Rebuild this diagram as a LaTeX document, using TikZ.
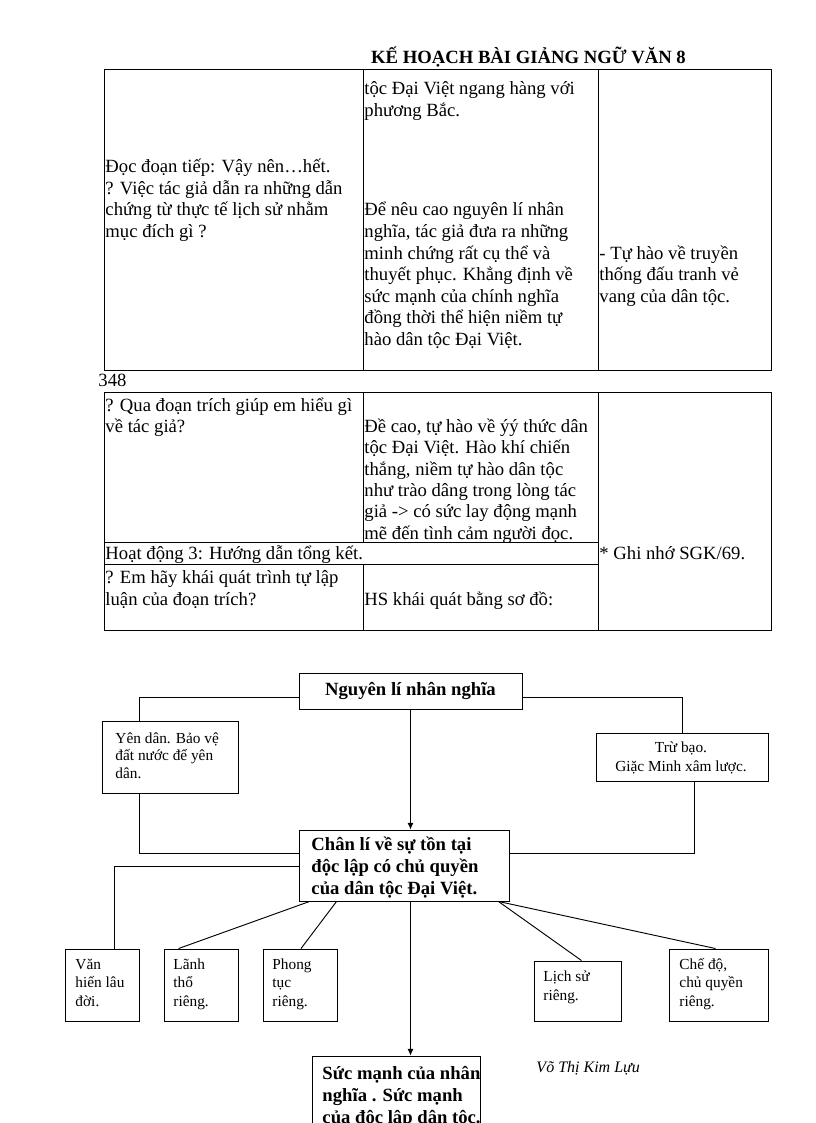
\documentclass[tikz,border=0pt]{standalone}
\usepackage{fontspec}
\setmainfont{Liberation Serif}
\usetikzlibrary{arrows.meta,calc}

% x, y of first baseline, line step, name, lines
\newcommand{\textrows}[5]{%
	\foreach \txt [count=\i from 0] in {#5}
		\node[anchor=base west] (#4-\i) at (#1,#2+\i*#3) {\txt};
}

\begin{document}
\begin{tikzpicture}[x=0.75pt,y=-0.75pt,line width=0.7pt,
			box/.style 2 args={draw,minimum width=#1*0.75pt,minimum height=#2*0.75pt},
			small/.style={font=\fontsize{11.5}{13.5}\selectfont},
			heavy/.style={font=\fontsize{14}{16}\selectfont\bfseries},
			arr/.style={-{Latex[length=5pt,width=4.5pt]}}]
		\useasboundingbox (0,0) rectangle (816,1123);
		\clip (0,0) rectangle (816,1123);
		\tikzstyle{every node}=[inner sep=0pt,font=\fontsize{14}{16}\selectfont]

		\node[anchor=base,heavy] (title) at (528.5,64) {KẾ HOẠCH BÀI GIẢNG NGỮ VĂN 8};

		% first table
		\draw (104,69) rectangle (771,370);
		\draw (363,69) -- (363,370) (598,69) -- (598,370);
		\textrows{364}{95}{21.5}{c2a}{tộc Đại Việt ngang hàng với, phương Bắc.}
		\textrows{105}{173}{21.5}{c1a}{Đọc đoạn tiếp: Vậy nên…hết., ? Việc tác giả dẫn ra những dẫn, chứng từ thực tế lịch sử nhằm, mục đích gì ?}
		\textrows{364}{216}{21.5}{c2b}{Để nêu cao nguyên lí nhân, {nghĩa, tác giả đưa ra những}, minh chứng rất cụ thể và, thuyết phục. Khẳng định về, sức mạnh của chính nghĩa, đồng thời thể hiện niềm tự, hào dân tộc Đại Việt.}
		\textrows{599}{259}{21.5}{c3a}{- Tự hào về truyền, thống đấu tranh vẻ, vang của dân tộc.}

		\node[anchor=base west] (page) at (98,386) {348};

		% second table
		\draw (104,392) rectangle (771,630);
		\draw (598,392) -- (598,630);
		\draw (363,392) -- (363,542.5) (363,564.5) -- (363,630);
		\draw (104,542.5) -- (598,542.5) (104,564.5) -- (598,564.5);
		\textrows{105}{411}{21.5}{q1}{? Qua đoạn trích giúp em hiểu gì, về tác giả?}
		\textrows{364}{432.5}{21.3}{a1}{{Đề cao, tự hào về ýý thức dân}, tộc Đại Việt. Hào khí chiến, {thắng, niềm tự hào dân tộc}, như trào dâng trong lòng tác, giả -> có sức lay động mạnh, mẽ đến tình cảm người đọc.}
		\node[anchor=base west] (hd3) at (105,559.5) {Hoạt động 3: Hướng dẫn tổng kết.};
		\node[anchor=base west] (ghinho) at (599,559.5) {* Ghi nhớ SGK/69.};
		\textrows{105}{583.5}{21.5}{q2}{? Em hãy khái quát trình tự lập, luận của đoạn trích?}
		\node[anchor=base west] (hs) at (364,605) {HS khái quát bằng sơ đồ:};

		% diagram
		\node[box={223}{36},heavy] (N) at (410.5,691) {Nguyên lí nhân nghĩa};
		\node[box={136}{72}] (Y) at (170,757) {};
		\node[box={172}{48}] (T) at (682,757) {};
		\node[box={210}{71}] (C) at (404,865.5) {};
		\node[box={74}{72}] (V) at (102,985) {};
		\node[box={74}{72}] (L) at (201,985) {};
		\node[box={74}{72}] (P) at (300,985) {};
		\node[box={87}{60}] (LS) at (577.5,991) {};
		\node[box={99}{72}] (CD) at (718.5,985) {};
		\node[box={168}{90}] (S) at (396,1101) {};

		\begin{scope}[nodes={small}]
			\textrows{115}{743}{17.7}{y}{Yên dân. Bảo vệ, đất nước để yên, dân.}
			\node[anchor=base] (t1) at (681,752) {Trừ bạo.};
			\node[anchor=base] (t2) at (681,771) {Giặc Minh xâm lược.};
			\textrows{75}{969}{18.5}{v}{Văn, hiến lâu, đời.}
			\textrows{173}{969}{18.5}{l}{Lãnh, thổ, riêng.}
			\textrows{272}{969}{18.5}{p}{Phong, tục, riêng.}
			\textrows{543}{981}{19}{ls}{Lịch sử, riêng.}
			\textrows{679}{969}{18.5}{cd}{{Chế độ,}, chủ quyền, riêng.}
		\end{scope}

		\begin{scope}[nodes={heavy}]
			\textrows{311}{850}{22}{c}{Chân lí về sự tồn tại, độc lập có chủ quyền, của dân tộc Đại Việt.}
			\textrows{322}{1079}{22}{s}{Sức mạnh của nhân, nghĩa . Sức mạnh, của độc lập dân tộc.}
		\end{scope}

		\node[anchor=base west,font=\fontsize{12}{14}\selectfont\itshape] (sig) at (536,1072) {Võ Thị Kim Lựu};

		\coordinate (kY) at (139,697);
		\coordinate (kT) at (682,697);
		\coordinate (kC1) at (139,853);
		\coordinate (kC2) at (694,853);
		\coordinate (kV) at (114,866);
		\draw (N.west |- kY) -| (Y.north -| kY);
		\draw (N.east |- kT) -| (T.north -| kT);
		\draw (Y.south -| kC1) |- (C.west |- kC1);
		\draw (T.south -| kC2) |- (C.east |- kC2);
		\draw (C.west |- kV) -| (V.north -| kV);
		\draw[arr] (N.south) -- (C.north -| N.south);
		\draw[arr] (C.south -| N.south) -- (S.north -| N.south);
		\draw ($(C.south west)+(11,0)$) -- ($(L.north west)+(15,0)$);
		\draw ($(C.south west)+(38,0)$) -- ($(P.north)+(1,0)$);
		\draw ($(C.south east)+(-11,0)$) -- ($(LS.north)+(4,0)$);
		\draw ($(C.south east)+(-11,0)$) -- ($(CD.north)+(-3,0)$);
\end{tikzpicture}
\end{document}
